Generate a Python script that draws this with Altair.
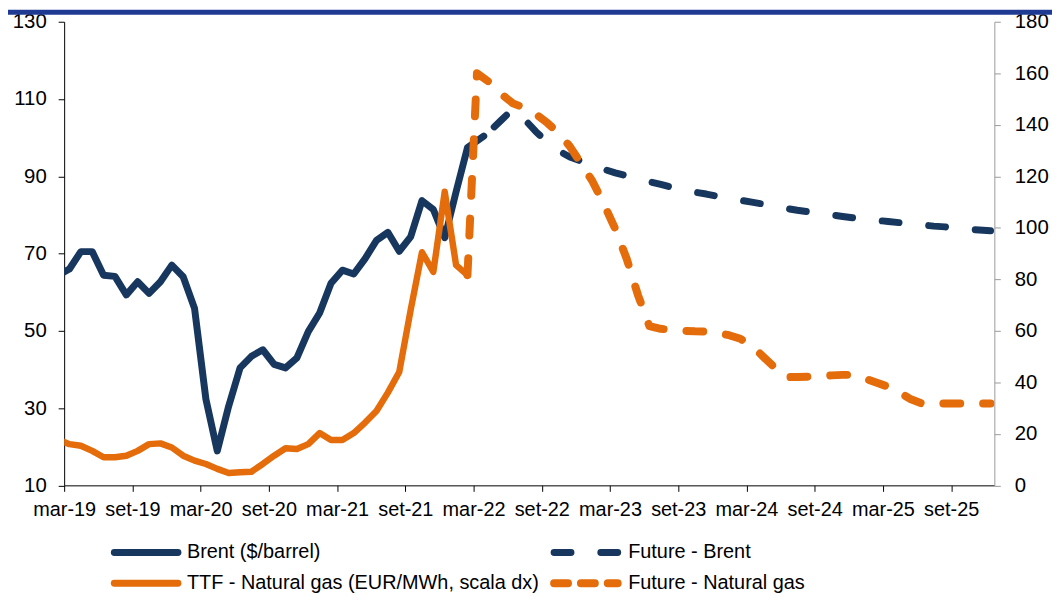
import altair as alt
import pandas as pd

# ---------------- data ----------------
NAVY = "#17375E"
ORANGE = "#E46C0A"

# monthly averages, plotted at mid-month
BRENT_HIST_DATES = [f"{d:%Y-%m}-15" for d in pd.date_range("2019-02-01", "2022-02-01", freq="MS")] + ["2022-03-28"]
BRENT_HIST = [64.4, 66.0, 70.5, 70.5, 64.4, 64.1, 59.3, 62.7, 59.7, 62.7, 67.0, 64.0,
              55.8, 32.3, 18.9, 30.5, 40.4, 43.4, 45.1, 41.3, 40.4, 43.0, 49.8, 54.6,
              62.3, 65.7, 64.7, 68.7, 73.4, 75.5, 70.6, 74.3, 83.7, 81.4, 74.1, 86.0,
              97.4, 100.4]

BRENT_FUT_DATES = ["2022-03-28"] + [f"{d:%Y-%m}-15" for d in pd.date_range("2022-04-01", "2025-12-01", freq="MS")]
BRENT_FUT = [100.4,
             101.8, 104.6, 107.4, 104.8, 101.6, 98.9, 96.6, 95.0, 93.9,
             92.8, 91.8, 90.9, 90.1, 89.4, 88.6, 87.9, 87.1, 86.5, 85.9, 85.4, 84.8,
             84.3, 83.8, 83.3, 82.8, 82.2, 81.7, 81.2, 80.8, 80.4, 80.0, 79.6, 79.2,
             78.9, 78.6, 78.3, 78.0, 77.7, 77.4, 77.1, 76.9, 76.6, 76.3, 76.1, 75.9]

GAS_HIST_DATES = [f"{d:%Y-%m}-15" for d in pd.date_range("2019-02-01", "2022-02-01", freq="MS")]
GAS_HIST = [17.8, 16.0, 15.4, 13.4, 10.9, 10.9, 11.5, 13.4, 16.0, 16.3, 14.7, 11.5,
            9.6, 8.3, 6.4, 4.8, 5.1, 5.3, 8.3, 11.5, 14.4, 14.1, 16.0, 20.3,
            17.6, 17.6, 20.3, 24.4, 28.9, 36.0, 44.0, 68.0, 90.5, 82.9, 114.0, 85.5,
            81.6]

GAS_FUT_DATES = ["2022-02-15", "2022-03-10"] + [f"{d:%Y-%m}-15" for d in pd.date_range("2022-04-01", "2025-12-01", freq="MS")]
GAS_FUT = [81.6, 160.0,
           156.3, 151.8, 148.3, 146.6, 144.2, 140.8, 136.8, 131.6, 124.9,
           118.0, 109.2, 99.5, 88.0, 73.8, 61.8, 60.8, 60.3, 60.0, 59.8, 59.7, 59.2,
           58.3, 56.9, 54.3, 50.0, 45.8, 42.0, 42.1, 42.2, 42.4, 42.7, 42.9, 42.9,
           41.4, 39.8, 38.3, 36.0, 33.4, 31.7, 31.8, 31.8, 31.8, 31.8, 31.8, 31.8]

TICK_LABELS = ["mar-19", "set-19", "mar-20", "set-20", "mar-21", "set-21", "mar-22",
               "set-22", "mar-23", "set-23", "mar-24", "set-24", "mar-25", "set-25"]
LEFT_TICKS = [10, 30, 50, 70, 90, 110, 130]
RIGHT_TICKS = [0, 20, 40, 60, 80, 100, 120, 140, 160, 180]

LEGEND = ["Brent ($/barrel)", "Future - Brent",
          "TTF - Natural gas (EUR/MWh, scala dx)", "Future - Natural gas"]


def month_index(s):
    y, m, d = map(int, s.split("-"))
    return (y - 2019) * 12 + (m - 3) + (d - 1) / 30.0


def frame(dates, values):
    return pd.DataFrame({"t": [month_index(s) for s in dates], "v": values})


FONT = "Liberation Sans"
W, H = 936, 466.5

label_expr = "[" + ",".join(f"'{t}'" for t in TICK_LABELS) + "][round(datum.value/6)]"
X = alt.X("t:Q",
          scale=alt.Scale(domain=[0, 81.8], nice=False, zero=False),
          axis=alt.Axis(values=[6 * i for i in range(len(TICK_LABELS))], labelExpr=label_expr,
                        title=None, grid=False, domainColor="#000000", tickColor="#000000",
                        tickSize=6, labelPadding=8, labelFontSize=20, labelFont=FONT,
                        labelColor="#000000", labelFlush=False, labelOverlap=False))

y_left = alt.Y("v:Q", scale=alt.Scale(domain=[10, 130], nice=False, zero=False),
               axis=alt.Axis(values=LEFT_TICKS, orient="left", title=None, grid=False,
                             domainColor="#000000", tickColor="#000000", tickSize=6,
                             labelPadding=12, labelFontSize=20.5, labelFont=FONT,
                             labelColor="#000000"))

y_right = alt.Y("v:Q", scale=alt.Scale(domain=[0, 180], nice=False, zero=False),
                axis=alt.Axis(values=RIGHT_TICKS, orient="right", title=None, grid=False,
                              domainColor="#9A9A9A", tickColor="#9A9A9A", tickSize=6,
                              labelPadding=14, labelFontSize=20.5, labelFont=FONT,
                              labelColor="#000000"))

brent_hist = alt.Chart(frame(BRENT_HIST_DATES, BRENT_HIST)).mark_line(
    color=NAVY, strokeWidth=7, strokeJoin="round", strokeCap="round", clip=True
).encode(x=X, y=y_left)
brent_fut = alt.Chart(frame(BRENT_FUT_DATES, BRENT_FUT)).mark_line(
    color=NAVY, strokeWidth=7, strokeJoin="round", strokeCap="round", strokeDash=[17, 30],
    strokeDashOffset=-14, clip=True
).encode(x=X, y=y_left)
left = alt.layer(brent_hist, brent_fut)

gas_hist = alt.Chart(frame(GAS_HIST_DATES, GAS_HIST)).mark_line(
    color=ORANGE, strokeWidth=6.5, strokeJoin="round", strokeCap="round", clip=True
).encode(x=X, y=y_right)
gas_fut = alt.Chart(frame(GAS_FUT_DATES, GAS_FUT)).mark_line(
    color=ORANGE, strokeWidth=8, strokeJoin="round", strokeCap="round", strokeDash=[17, 23], clip=True
).encode(x=X, y=y_right)
right = alt.layer(gas_hist, gas_fut)

one = alt.Data(values=[{"k": 1}])

# top band
band = alt.Chart(one).mark_rect(color="#1F3A93").encode(
    x=alt.value(-56.5), x2=alt.value(1050.5 - 56.5), y=alt.value(-12), y2=alt.value(-7))

# legend (symbols + labels)
ROW1, ROW2 = 534, 565
leg = []
specs = [
    (LEGEND[0], NAVY, 7, None, 50.5, 114.5, ROW1, 123.5),
    (LEGEND[1], NAVY, 7, [17, 30], 493, 557, ROW1, 567.5),
    (LEGEND[2], ORANGE, 7, None, 50.5, 114.5, ROW2, 123.5),
    (LEGEND[3], ORANGE, 8, [14, 13], 493, 557, ROW2, 567.5),
]
for text, col, sw, dash, x1, x2, yy, tx in specs:
    kw = dict(color=col, strokeWidth=sw, strokeCap="round")
    if dash is not None:
        kw["strokeDash"] = dash
    leg.append(alt.Chart(one).mark_rule(**kw).encode(
        x=alt.value(x1), x2=alt.value(x2), y=alt.value(yy)))
    leg.append(alt.Chart(one).mark_text(
        align="left", baseline="middle", fontSize=20, font=FONT, color="#000000"
    ).encode(x=alt.value(tx), y=alt.value(yy), text=alt.value(text)))

chart = alt.layer(left, right, band, *leg).resolve_scale(y="independent").properties(
    width=W, height=H,
    autosize=alt.AutoSizeParams(type="none"),
    padding={"left": 56.5, "top": 12, "right": 58, "bottom": 109.5},
    background="#FFFFFF",
).configure_view(strokeWidth=0)

chart.save("out.html", embed_options={"renderer": "svg", "actions": False})
